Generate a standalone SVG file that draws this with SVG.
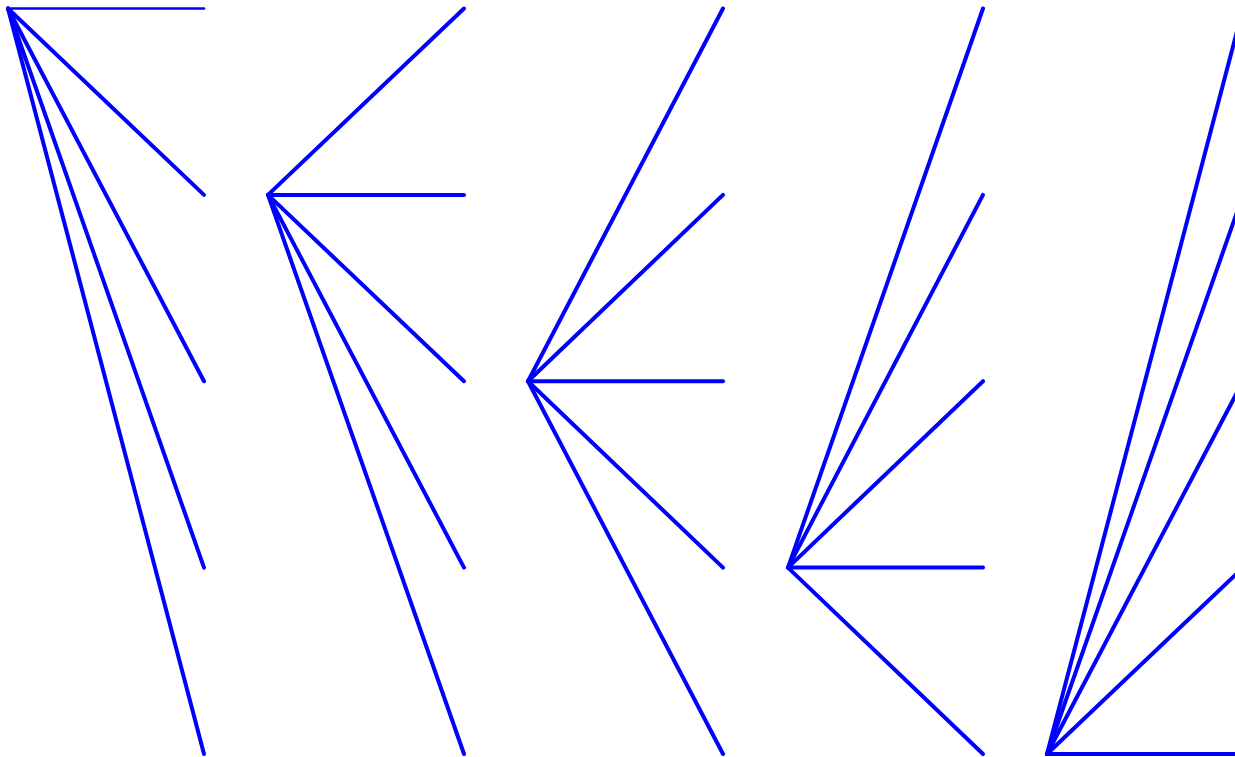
<svg xmlns="http://www.w3.org/2000/svg" width="1235" height="757" viewBox="0 0 1235 757">
<style>
.c{stroke:#0000ff;stroke-width:4;fill:none;stroke-linecap:round}
.t{stroke-width:2.6}
</style>
<rect width="1235" height="757" fill="#ffffff"/>
<g id="connectors">
<g id="fan1">
<line class="c t" x1="8" y1="8.5" x2="204" y2="8.5"/>
<line class="c" x1="8" y1="8.5" x2="204" y2="194.9"/>
<line class="c" x1="8" y1="8.5" x2="204" y2="381.2"/>
<line class="c" x1="8" y1="8.5" x2="204" y2="567.6"/>
<line class="c" x1="8" y1="8.5" x2="204" y2="754"/>
</g>
<g id="fan2">
<line class="c" x1="268" y1="194.9" x2="464" y2="8.5"/>
<line class="c" x1="268" y1="194.9" x2="464" y2="194.9"/>
<line class="c" x1="268" y1="194.9" x2="464" y2="381.2"/>
<line class="c" x1="268" y1="194.9" x2="464" y2="567.6"/>
<line class="c" x1="268" y1="194.9" x2="464" y2="754"/>
</g>
<g id="fan3">
<line class="c" x1="528" y1="381.2" x2="723" y2="8.5"/>
<line class="c" x1="528" y1="381.2" x2="723" y2="194.9"/>
<line class="c" x1="528" y1="381.2" x2="723" y2="381.2"/>
<line class="c" x1="528" y1="381.2" x2="723" y2="567.6"/>
<line class="c" x1="528" y1="381.2" x2="723" y2="754"/>
</g>
<g id="fan4">
<line class="c" x1="788" y1="567.6" x2="983" y2="8.5"/>
<line class="c" x1="788" y1="567.6" x2="983" y2="194.9"/>
<line class="c" x1="788" y1="567.6" x2="983" y2="381.2"/>
<line class="c" x1="788" y1="567.6" x2="983" y2="567.6"/>
<line class="c" x1="788" y1="567.6" x2="983" y2="754"/>
</g>
<g id="fan5">
<line class="c" x1="1047" y1="754" x2="1243" y2="8.5"/>
<line class="c" x1="1047" y1="754" x2="1243" y2="194.9"/>
<line class="c" x1="1047" y1="754" x2="1243" y2="381.2"/>
<line class="c" x1="1047" y1="754" x2="1243" y2="567.6"/>
<line class="c" x1="1047" y1="754" x2="1243" y2="754"/>
</g>
</g>
</svg>
